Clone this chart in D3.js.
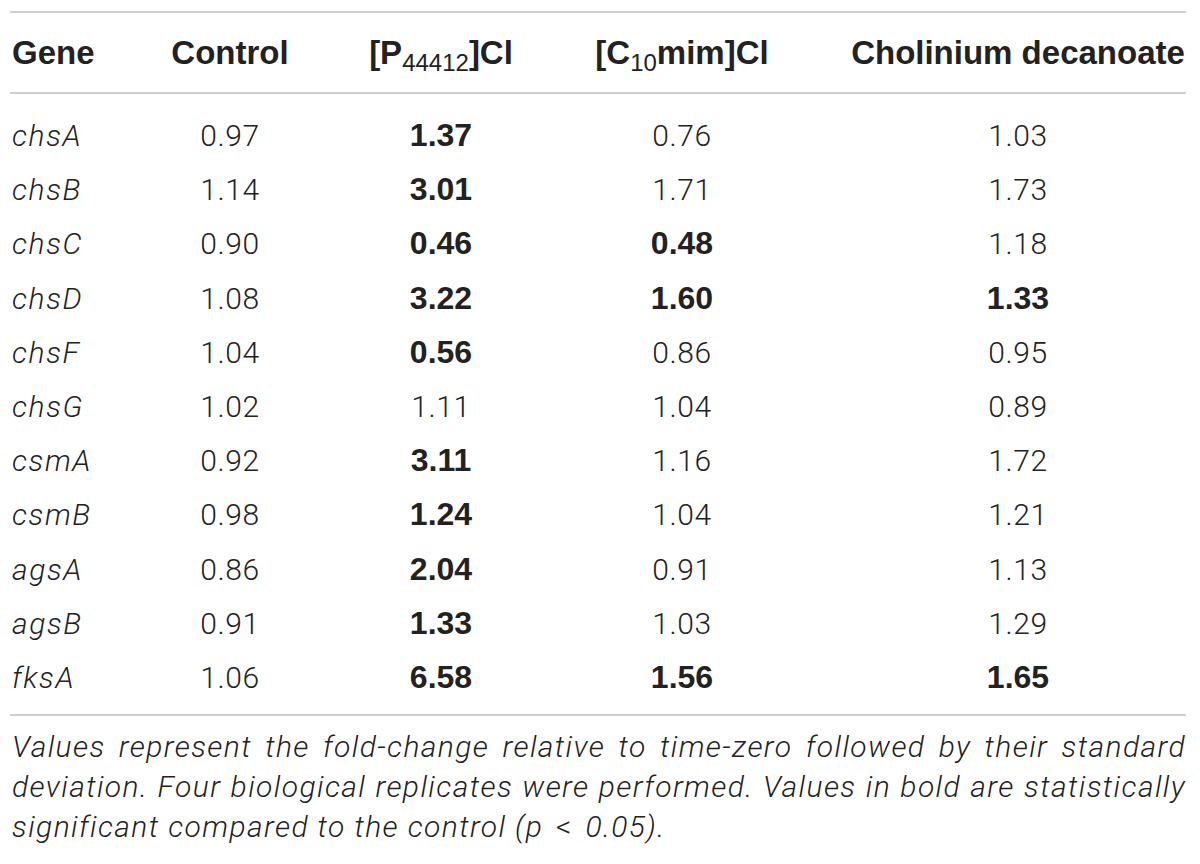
<!DOCTYPE html>
<html>
<head>
<meta charset="utf-8">
<script src="https://cdn.jsdelivr.net/npm/d3@7"></script>
<style>
  html, body { margin: 0; padding: 0; background: #fff; }
  #wrap { position: relative; width: 1200px; height: 864px; }
  svg { position: absolute; left: 0; top: 0; }
  .cap { position: absolute; left: 12px; width: 1174px; font-family: Roboto, "Liberation Sans", sans-serif;
         font-weight: 300; font-style: italic; font-size: 30px; letter-spacing: 1.4px; color: #222; white-space: nowrap; }
  .just { text-align: justify; text-align-last: justify; white-space: normal; }
  .lt { margin: 0 4px; font-style: normal; }
</style>
</head>
<body>
<div id="wrap"></div>
<script>
// ---- data ----
const genes = ["chsA","chsB","chsC","chsD","chsF","chsG","csmA","csmB","agsA","agsB","fksA"];
const control   = [0.97,1.14,0.90,1.08,1.04,1.02,0.92,0.98,0.86,0.91,1.06];
const p44412    = [1.37,3.01,0.46,3.22,0.56,1.11,3.11,1.24,2.04,1.33,6.58];
const c10mim    = [0.76,1.71,0.48,1.60,0.86,1.04,1.16,1.04,0.91,1.03,1.56];
const cholinium = [1.03,1.73,1.18,1.33,0.95,0.89,1.72,1.21,1.13,1.29,1.65];
// significance (bold) flags
const boldControl   = [0,0,0,0,0,0,0,0,0,0,0];
const boldP44412    = [1,1,1,1,1,0,1,1,1,1,1];
const boldC10mim    = [0,0,1,1,0,0,0,0,0,0,1];
const boldCholinium = [0,0,0,1,0,0,0,0,0,0,1];
const columnKeys = ["control","p44412","c10mim","cholinium"];
const captionLines = [
  "Values represent the fold-change relative to time-zero followed by their standard",
  "deviation. Four biological replicates were performed. Values in bold are statistically",
  "significant compared to the control (p < 0.05)."
];

// ---- layout ----
const W = 1200, H = 864;
const wrap = d3.select("#wrap");
const svg = wrap.append("svg").attr("width", W).attr("height", H);

const lineColor = "#cfcfcf";
const textColor = "#222";
const lightFont = "Roboto, 'Liberation Sans', sans-serif";
const boldFont = "'Liberation Sans', Arial, sans-serif";

const xCol = d3.scaleOrdinal().domain(["gene"].concat(columnKeys)).range([12, 230, 441, 682, 1018]);
const y = d3.scalePoint().domain(genes).range([146, 146 + 10 * 54.2]);

const seriesMap = {
  control: {values: control, bold: boldControl},
  p44412: {values: p44412, bold: boldP44412},
  c10mim: {values: c10mim, bold: boldC10mim},
  cholinium: {values: cholinium, bold: boldCholinium}
};
const fmt = d3.format(".2f");

// rules
const rules = [12, 93, 715];
svg.selectAll("line.rule").data(rules).join("line")
  .attr("x1", 10).attr("x2", 1186)
  .attr("y1", d => d).attr("y2", d => d)
  .attr("stroke", lineColor).attr("stroke-width", 2.2);

// header
const hy = 64;
const hdr = svg.append("g").attr("font-family", boldFont).attr("font-weight", "bold")
  .attr("font-size", 33).attr("fill", textColor);
hdr.append("text").attr("x", xCol("gene")).attr("y", hy).text("Gene");
hdr.append("text").attr("x", xCol("control")).attr("y", hy).attr("text-anchor", "middle").text("Control");
const t1 = hdr.append("text").attr("x", xCol("p44412")).attr("y", hy).attr("text-anchor", "middle");
t1.append("tspan").text("[P");
t1.append("tspan").attr("font-size", 24).attr("font-weight", "normal").attr("dy", 7).text("44412");
t1.append("tspan").attr("dy", -7).text("]Cl");
const t2 = hdr.append("text").attr("x", xCol("c10mim")).attr("y", hy).attr("text-anchor", "middle");
t2.append("tspan").text("[C");
t2.append("tspan").attr("font-size", 24).attr("font-weight", "normal").attr("dy", 7).text("10");
t2.append("tspan").attr("dy", -7).text("mim]Cl");
hdr.append("text").attr("x", xCol("cholinium")).attr("y", hy).attr("text-anchor", "middle").text("Cholinium decanoate");

// gene names
svg.append("g").selectAll("text").data(genes).join("text")
  .attr("x", xCol("gene")).attr("y", d => y(d))
  .attr("font-family", lightFont).attr("font-weight", 300).attr("font-style", "italic")
  .attr("letter-spacing", 1.6)
  .attr("font-size", 30).attr("fill", textColor).text(d => d);

// values
columnKeys.forEach(k => {
  const s = seriesMap[k];
  svg.append("g").selectAll("text").data(genes).join("text")
    .attr("x", xCol(k)).attr("y", d => y(d))
    .attr("text-anchor", "middle")
    .attr("fill", textColor)
    .attr("font-size", (d, i) => s.bold[i] ? 32 : 30)
    .attr("letter-spacing", (d, i) => s.bold[i] ? 0 : 0.6)
    .attr("font-family", (d, i) => s.bold[i] ? boldFont : lightFont)
    .attr("font-weight", (d, i) => s.bold[i] ? "bold" : 300)
    .text((d, i) => fmt(s.values[i]));
});

// caption
const capTop = 729;
wrap.selectAll("div.cap").data(captionLines).join("div")
  .attr("class", (d, i) => i < 2 ? "cap just" : "cap")
  .style("top", (d, i) => (capTop + i * 40) + "px")
  .html(d => d.replace("(p < ", "(p <span class=\"lt\">&lt;</span> "));
</script>
</body>
</html>
